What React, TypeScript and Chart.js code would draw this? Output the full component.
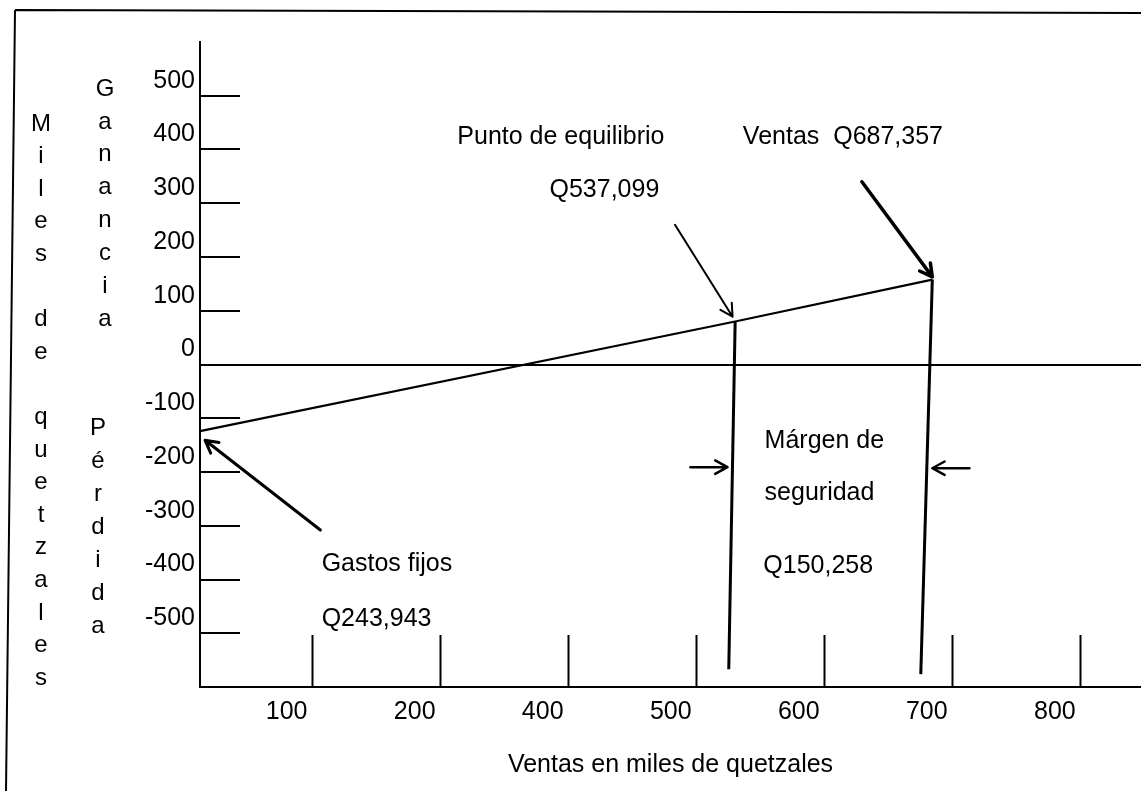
import React, { useEffect, useRef } from 'react';
import { Chart, registerables } from 'chart.js';

Chart.register(...registerables);

// ---------- data ----------
const xTickValues = [200, 300, 400, 500, 600, 700, 800];
const xTickLabels = ['100', '200', '400', '500', '600', '700', '800'];
const yTickValues = [-600, -500, -400, -300, -200, -100, 0, 100, 200, 300, 400, 500, 600];

// profit line (sales in thousands → profit in thousands)
const salesX = [112, 530, 684];
const profitY = [-124, 80, 158];

// vertical guide lines (break-even and actual sales)
const breakEvenX = [530, 525];
const breakEvenY = [80, -567];
const actualSalesX = [684, 675];
const actualSalesY = [158, -576];

// annotation arrows (from → to, in data units)
const arrowFromX = [483, 629, 206, 495, 713];
const arrowFromY = [260, 340, -308, -191, -193];
const arrowToX = [528, 684, 116, 524, 684];
const arrowToY = [89, 163, -141, -191, -193];

// annotation texts (left edge / middle, in data units)
const noteTexts = ['Punto de equilibrio', 'Q537,099', 'Ventas  Q687,357', 'Márgen de', 'seguridad', 'Q150,258', 'Gastos fijos', 'Q243,943'];
const noteX = [313, 385, 536, 553, 553, 552, 207, 207];
const noteY = [427, 329, 427, -139, -236, -372, -368, -470];

const yTitleOuter = 'Miles de quetzales';
const yTitleProfit = 'Ganancia';
const yTitleLoss = 'Pérdida';
const xTitle = 'Ventas en miles de quetzales';

// ---------- styles ----------
const FONT_FAMILY = '"Liberation Sans", Arial, sans-serif';
const FONT_SIZE = 25;
const INK = '#000';
const arrowWidths = [2, 3.5, 3, 2.5, 2.5];

const decorPlugin = {
  id: 'decor',
  beforeDraw(chart: any) {
    const ctx = chart.ctx;
    ctx.save();
    ctx.strokeStyle = INK;
    ctx.lineWidth = 2;
    ctx.beginPath();
    ctx.moveTo(15, 10);
    ctx.lineTo(1141, 13);
    ctx.moveTo(15, 10);
    ctx.lineTo(6, 791);
    ctx.stroke();

    ctx.fillStyle = INK;
    ctx.font = `${FONT_SIZE - 1}px ${FONT_FAMILY}`;
    ctx.textAlign = 'center';
    ctx.textBaseline = 'middle';
    const stack = (text: string, x: number, y0: number, step: number) => {
      Array.from(text).forEach((ch, i) => {
        if (ch !== ' ') ctx.fillText(ch, x, y0 + i * step);
      });
    };
    stack(yTitleOuter, 41, 124, 32.6);
    stack(yTitleProfit, 105, 89, 32.9);
    stack(yTitleLoss, 98, 428, 33);
    ctx.restore();
  },
  afterDatasetsDraw(chart: any) {
    const ctx = chart.ctx;
    const xs = chart.scales.x;
    const ys = chart.scales.y;
    ctx.save();
    ctx.strokeStyle = INK;
    ctx.lineCap = 'round';
    ctx.lineJoin = 'round';
    arrowFromX.forEach((_, i) => {
      const x1 = xs.getPixelForValue(arrowFromX[i]);
      const y1 = ys.getPixelForValue(arrowFromY[i]);
      const x2 = xs.getPixelForValue(arrowToX[i]);
      const y2 = ys.getPixelForValue(arrowToY[i]);
      const ang = Math.atan2(y2 - y1, x2 - x1);
      const head = 14;
      const spread = 0.5;
      ctx.lineWidth = arrowWidths[i];
      ctx.beginPath();
      ctx.moveTo(x1, y1);
      ctx.lineTo(x2, y2);
      ctx.moveTo(x2 - head * Math.cos(ang - spread), y2 - head * Math.sin(ang - spread));
      ctx.lineTo(x2, y2);
      ctx.lineTo(x2 - head * Math.cos(ang + spread), y2 - head * Math.sin(ang + spread));
      ctx.stroke();
    });
    ctx.fillStyle = INK;
    ctx.font = `${FONT_SIZE}px ${FONT_FAMILY}`;
    ctx.textAlign = 'left';
    ctx.textBaseline = 'middle';
    noteTexts.forEach((t, i) => {
      ctx.fillText(t, xs.getPixelForValue(noteX[i]), ys.getPixelForValue(noteY[i]) + 2);
    });
    ctx.restore();
  },
};

export default function App() {
  const ref = useRef<HTMLCanvasElement | null>(null);
  useEffect(() => {
    if (!ref.current) return;
    const font = { family: FONT_FAMILY, size: FONT_SIZE };
    const lineDs = (xsArr: number[], ysArr: number[], width: number) => ({
      type: 'line' as const,
      data: xsArr.map((x, i) => ({ x, y: ysArr[i] })),
      borderColor: INK,
      borderWidth: width,
      pointRadius: 0,
      fill: false,
      tension: 0,
      clip: false as any,
    });
    const chart = new Chart(ref.current, {
      type: 'line',
      data: {
        datasets: [
          lineDs(salesX, profitY, 2.2),
          lineDs(breakEvenX, breakEvenY, 3),
          lineDs(actualSalesX, actualSalesY, 3),
        ] as any,
      },
      options: {
        animation: false,
        responsive: false,
        layout: { padding: { top: 42, left: 0, right: 0, bottom: 0 } },
        plugins: { legend: { display: false }, tooltip: { enabled: false } },
        scales: {
          x: {
            type: 'linear',
            min: 112,
            max: 847,
            afterBuildTicks: (s: any) => {
              s.ticks = xTickValues.map((v) => ({ value: v }));
            },
            afterFit: (s: any) => {
              s.height = 104;
              s.paddingLeft = 0;
              s.paddingRight = 0;
            },
            border: { color: INK, width: 2 },
            grid: {
              drawOnChartArea: false,
              drawTicks: true,
              tickLength: -52,
              tickColor: INK,
              tickWidth: 2,
            },
            ticks: {
              callback: (_v: any, i: number) => xTickLabels[i],
              labelOffset: -26,
              padding: 62,
              font,
              color: INK,
              maxRotation: 0,
              autoSkip: false,
            },
            title: {
              display: true,
              text: xTitle,
              font,
              color: INK,
              padding: { top: 0, bottom: 11 },
            },
          },
          y: {
            type: 'linear',
            min: -600,
            max: 600,
            afterBuildTicks: (s: any) => {
              s.ticks = yTickValues.map((v) => ({ value: v }));
            },
            afterFit: (s: any) => {
              s.width = 200;
              s.paddingTop = 0;
              s.paddingBottom = 0;
            },
            border: { color: INK, width: 2 },
            grid: {
              drawOnChartArea: true,
              drawTicks: true,
              tickLength: -40,
              color: (c: any) => (c.tick && c.tick.value === 0 ? INK : 'rgba(0,0,0,0)'),
              lineWidth: 2,
              tickColor: (c: any) =>
                c.tick && (Math.abs(c.tick.value) === 600 || c.tick.value === 0) ? 'rgba(0,0,0,0)' : INK,
              tickWidth: 2,
            },
            ticks: {
              callback: (v: any) => (Math.abs(v) === 600 ? '' : String(v)),
              labelOffset: -15,
              padding: 45,
              font,
              color: INK,
              autoSkip: false,
            },
          },
        },
      },
      plugins: [decorPlugin],
    } as any);
    return () => chart.destroy();
  }, []);
  return (
    <div style={{ position: 'fixed', left: 0, top: 0, width: 1141, height: 791, background: '#fff' }}>
      <canvas ref={ref} width={1141} height={791} style={{ display: 'block' }} />
    </div>
  );
}
